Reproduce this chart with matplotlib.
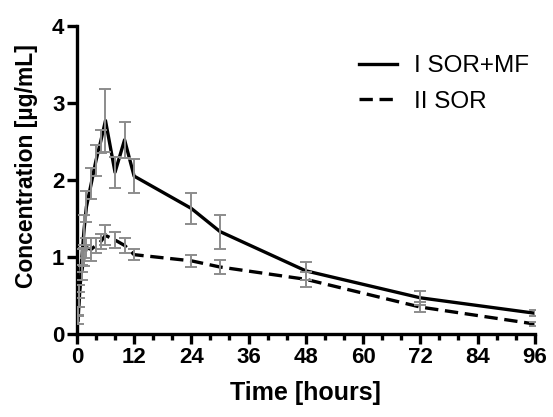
import matplotlib.pyplot as plt
from matplotlib.ticker import MultipleLocator

plt.rcParams['font.family'] = ['Liberation Sans', 'DejaVu Sans']

# sampling times (hours)
time_h = [0.25, 0.5, 1, 1.5, 2, 3, 4, 5, 6, 8, 10, 12, 24, 30, 48, 72, 96]

# I SOR+MF, mean and SD
sor_mf_mean = [0.18, 0.45, 0.95, 1.35, 1.65, 1.95, 2.25, 2.5, 2.77, 2.1, 2.52, 2.05, 1.63, 1.33, 0.82, 0.47, 0.27]
sor_mf_sd = [0.05, 0.1, 0.15, 0.2, 0.2, 0.2, 0.2, 0.15, 0.41, 0.2, 0.23, 0.22, 0.2, 0.22, 0.12, 0.09, 0.04]

# II SOR, mean and SD
sor_mean = [0.3, 0.55, 0.8, 1.0, 1.12, 1.1, 1.15, 1.2, 1.28, 1.22, 1.15, 1.03, 0.95, 0.87, 0.71, 0.35, 0.13]
sor_sd = [0.05, 0.08, 0.1, 0.12, 0.13, 0.15, 0.1, 0.1, 0.13, 0.1, 0.1, 0.07, 0.08, 0.09, 0.1, 0.06, 0.03]

x_ticks = [0, 12, 24, 36, 48, 60, 72, 84, 96]
y_ticks = [0, 1, 2, 3, 4]

fig = plt.figure(figsize=(5.53, 4.17), dpi=100)
ax = fig.add_axes([0.139, 0.199, 0.828, 0.739])

bar_color = '#8c8c8c'

ax.plot(time_h, sor_mf_mean, color='black', lw=2.4, label='I SOR+MF', zorder=2)
ax.plot(time_h, sor_mean, color='black', lw=2.4, ls=(0, (4, 2)), label='II SOR', zorder=2)

ax.errorbar(time_h, sor_mf_mean, yerr=sor_mf_sd, fmt='none', ecolor=bar_color,
            elinewidth=1.4, capsize=4, capthick=1.4, zorder=3)
ax.errorbar(time_h, sor_mean, yerr=sor_sd, fmt='none', ecolor=bar_color,
            elinewidth=1.4, capsize=4, capthick=1.4, zorder=3)

ax.set_xlim(0, 96)
ax.set_ylim(0, 4)
ax.set_xticks(x_ticks)
ax.set_yticks(y_ticks)
ax.xaxis.set_minor_locator(MultipleLocator(4))

for side in ['top', 'right']:
    ax.spines[side].set_visible(False)
for side in ['left', 'bottom']:
    ax.spines[side].set_linewidth(2.4)
ax.spines['left'].set_bounds(0, 4)
ax.spines['bottom'].set_bounds(0, 96)

ax.tick_params(which='major', length=7, width=2.4, labelsize=16, pad=2)
ax.tick_params(which='minor', length=4, width=2.4)
for lab in ax.get_xticklabels() + ax.get_yticklabels():
    lab.set_fontweight('bold')

ax.set_xlabel('Time [hours]', fontsize=18, fontweight='bold', labelpad=10)
ax.set_ylabel('Concentration [µg/mL]', fontsize=16.5, fontweight='bold')
ax.yaxis.set_label_coords(-0.085, 0.545)

leg = ax.legend(loc='upper right', bbox_to_anchor=(1.035, 0.975), frameon=False,
                fontsize=17.5, handlelength=1.55, handletextpad=0.7, labelspacing=0.55)

fig.savefig('out.png', dpi=100)
